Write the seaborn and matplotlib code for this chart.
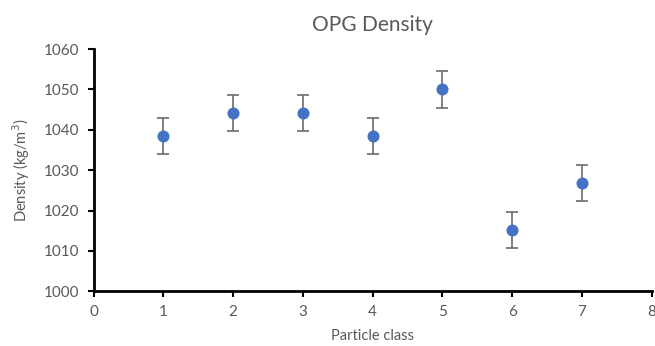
import matplotlib
matplotlib.use("Agg")
import matplotlib.pyplot as plt
import seaborn as sns
import pandas as pd

particle_class = [1, 2, 3, 4, 5, 6, 7]
density = [1038.4, 1044.2, 1044.2, 1038.4, 1050.0, 1015.2, 1026.8]
error = [4.5, 4.5, 4.5, 4.5, 4.5, 4.5, 4.5]

sns.set_style("white")
plt.rcParams['font.family'] = ['Lato', 'DejaVu Sans']
txt = '#595959'

df = pd.DataFrame({"Particle class": particle_class, "Density": density})

fig = plt.figure(figsize=(6.55, 3.46), dpi=100)
ax = fig.add_axes([0.143, 0.158, 0.852, 0.700])
ax.errorbar(particle_class, density, yerr=error, fmt='none', ecolor='#6b6b6b',
            elinewidth=1.2, capsize=4, capthick=1.2, zorder=2)
sns.scatterplot(data=df, x="Particle class", y="Density", ax=ax, s=75,
                color='#4472C4', edgecolor='#4472C4', linewidth=0, zorder=3)

ax.set_xlim(0, 8)
ax.set_ylim(1000, 1060)
ax.set_xticks(range(0, 9))
ax.set_yticks(range(1000, 1061, 10))
for s in ['top', 'right']:
    ax.spines[s].set_visible(False)
for s in ['left', 'bottom']:
    ax.spines[s].set_color('black')
    ax.spines[s].set_linewidth(2)
ax.tick_params(axis='both', direction='out', length=4, width=1.5, color='black',
               labelsize=11, labelcolor=txt, bottom=True, left=True, pad=6)
ax.set_xlabel("Particle class", fontsize=10.5, color=txt, labelpad=7)
ax.set_ylabel("Density (kg/m$^3$)", fontsize=10.5, color=txt, labelpad=9)
ax.set_title("OPG Density", fontsize=15, color=txt, pad=13)

fig.savefig("out.png", dpi=100)
